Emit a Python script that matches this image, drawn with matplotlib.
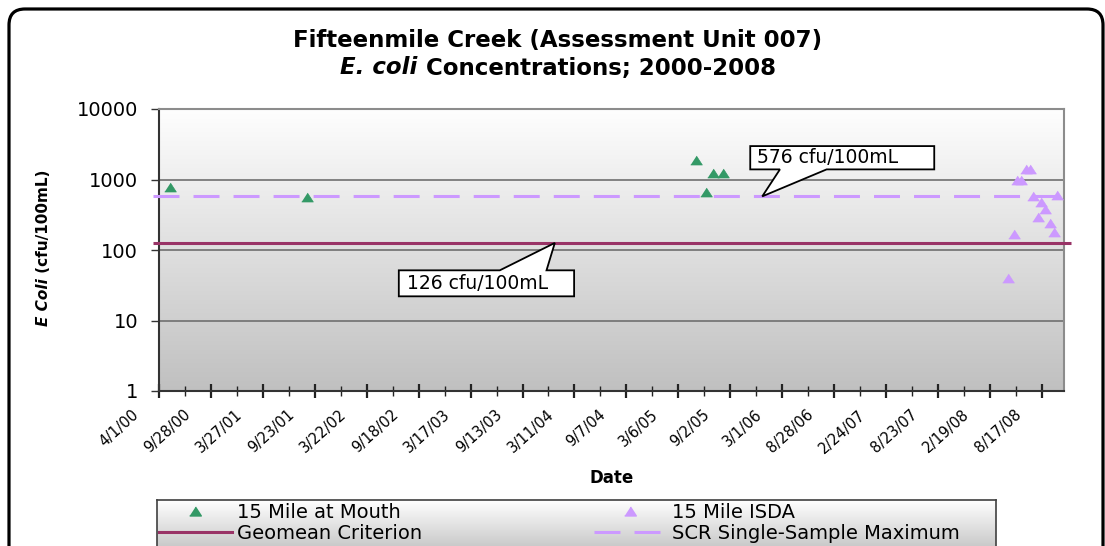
import numpy as np
import matplotlib
matplotlib.use("Agg")
import matplotlib.pyplot as plt
import matplotlib.dates as mdates
import matplotlib.transforms as mtransforms
from matplotlib.patches import Polygon, FancyBboxPatch
from matplotlib.lines import Line2D
from matplotlib.ticker import FixedLocator, NullLocator, FixedFormatter
from datetime import datetime

plt.rcParams['font.family'] = ['DejaVu Sans']

# ---------------- data ----------------
mouth_dates = ["2000-05-10", "2001-08-27", "2005-05-05", "2005-06-10", "2005-07-04", "2005-08-09"]
mouth_values = [790, 560, 1890, 660, 1220, 1220]

isda_dates = ["2008-04-23", "2008-05-11", "2008-05-24", "2008-06-05", "2008-06-24", "2008-07-07",
              "2008-07-17", "2008-08-04", "2008-08-16", "2008-08-29", "2008-09-16", "2008-09-28",
              "2008-10-10"]
isda_values = [40, 170, 1000, 1000, 1410, 1410, 583, 291, 484, 378, 242, 179, 609]

geomean_value = 126
scr_value = 576
criterion_span = ["2000-03-10", "2008-11-27"]

x_tick_labels = ["4/1/00", "9/28/00", "3/27/01", "9/23/01", "3/22/02", "9/18/02", "3/17/03",
                 "9/13/03", "3/11/04", "9/7/04", "3/6/05", "9/2/05", "3/1/06", "8/28/06",
                 "2/24/07", "8/23/07", "2/19/08", "8/17/08"]
x_limits = ["2000-04-01", "2008-11-02"]
y_tick_values = [1, 10, 100, 1000, 10000]
y_tick_labels = ["1", "10", "100", "1000", "10000"]

title_line1 = "Fifteenmile Creek (Assessment Unit 007)"
title_italic = "E. coli"
title_rest = " Concentrations; 2000-2008"
ylabel_italic = "E Coli"
ylabel_rest = " (cfu/100mL)"
xlabel_text = "Date"
series_names = ["15 Mile at Mouth", "Geomean Criterion", "15 Mile ISDA", "SCR Single-Sample Maximum"]
geomean_note = "126 cfu/100mL"
scr_note = "576 cfu/100mL"
geomean_note_date = "2004-01-03"
scr_note_date = "2005-12-22"

GREEN = "#339966"
LAVENDER = "#cc99ff"
MAROON = "#993366"

# ---------------- figure ----------------
W, H, DPI = 1105, 546, 100
fig = plt.figure(figsize=(W / DPI, H / DPI), dpi=DPI, facecolor='white')


def fx(px):
    return px / W


def fy(py):
    return 1 - py / H


L, R, T, B = 159, 1064, 109, 391
rect = [fx(L), fy(B), fx(R) - fx(L), fy(T) - fy(B)]

# gradient plot background
bg = fig.add_axes(rect, zorder=0)
top_c = np.array([254, 254, 254]) / 255
bot_c = np.array([192, 192, 192]) / 255
tt = np.linspace(0, 1, 256)[:, None]
grad = (top_c[None, :] * (1 - tt) + bot_c[None, :] * tt)[:, None, :]
bg.imshow(grad, aspect='auto', extent=[0, 1, 0, 1], interpolation='bilinear')
bg.set_axis_off()

ax = fig.add_axes(rect, zorder=1)
ax.set_facecolor('none')
ax.set_yscale('log')

span = np.array(criterion_span, dtype='datetime64[D]')
ax.plot(span, [geomean_value] * 2, color=MAROON, lw=2.2, clip_on=False, zorder=3,
        solid_capstyle='butt')
ax.plot(span, [scr_value] * 2, color=LAVENDER, lw=2.2, dashes=(8.5, 4.6), clip_on=False,
        zorder=3, dash_capstyle='butt')

tri = [(-1.3, -1), (1.3, -1), (0, 1)]
ax.plot(np.array(mouth_dates, dtype='datetime64[D]'), mouth_values, ls='none', marker=tri,
        ms=8.4, color=GREEN, mec=GREEN, mew=0.5, zorder=4, clip_on=False)
ax.plot(np.array(isda_dates, dtype='datetime64[D]'), isda_values, ls='none', marker=tri,
        ms=8.4, color=LAVENDER, mec=LAVENDER, mew=0.5, zorder=4, clip_on=False)

ax.set_xlim(np.datetime64(x_limits[0]), np.datetime64(x_limits[1]))
ax.set_ylim(1, 10000)

# y axis
ax.yaxis.set_major_locator(FixedLocator(y_tick_values))
ax.yaxis.set_major_formatter(FixedFormatter(y_tick_labels))
ax.yaxis.set_minor_locator(NullLocator())
ax.tick_params(axis='y', which='major', direction='out', length=6, width=1.0,
               color='#333333', labelsize=14, pad=9)
ax.yaxis.grid(True, which='major', color='#6f6f6f', lw=1.2, zorder=1)
ax.set_axisbelow(True)

# x axis
tick_dates = [datetime.strptime(s, "%m/%d/%y") for s in x_tick_labels]
tick_nums = mdates.date2num(tick_dates)
minor_nums = (tick_nums[:-1] + tick_nums[1:]) / 2
ax.xaxis.set_major_locator(FixedLocator(tick_nums))
ax.xaxis.set_major_formatter(FixedFormatter(x_tick_labels))
ax.xaxis.set_minor_locator(FixedLocator(minor_nums))
ax.tick_params(axis='x', which='major', direction='inout', length=10, width=1.6,
               color='#222222', labelsize=10.5, pad=13)
ax.tick_params(axis='x', which='minor', direction='inout', length=7, width=1.0,
               color='#222222')

for side in ['top', 'right']:
    ax.spines[side].set_color('#8c8c8c')
    ax.spines[side].set_linewidth(1.5)
for side in ['left', 'bottom']:
    ax.spines[side].set_color('#333333')
    ax.spines[side].set_linewidth(1.5)

# outer rounded border (pixel coordinates, bottom runs off the image)
border = FancyBboxPatch((9, -60), 1103 - 9, (H - 9) + 60,
                        boxstyle='round,pad=0,rounding_size=16',
                        transform=mtransforms.IdentityTransform(), lw=2.3, ec='black',
                        fc='none', zorder=10)
fig.add_artist(border)

# legend background
lg_ax = fig.add_axes([fx(157), fy(560), fx(996) - fx(157), fy(500) - fy(560)], zorder=2)
lt = np.array([255, 255, 255]) / 255
lb = np.array([186, 186, 186]) / 255
gl = (lt[None, :] * (1 - tt) + lb[None, :] * tt)[:, None, :]
lg_ax.imshow(gl, aspect='auto', extent=[0, 1, 0, 1], interpolation='bilinear')
lg_ax.set_xticks([])
lg_ax.set_yticks([])
for side in ['left', 'right', 'top']:
    lg_ax.spines[side].set_color('#404040')
    lg_ax.spines[side].set_linewidth(1.2)
lg_ax.spines['bottom'].set_visible(False)

h_mouth = Line2D([], [], ls='none', marker=tri, ms=8.4, color=GREEN, mec=GREEN)
h_geo = Line2D([], [], color=MAROON, lw=2.2)
h_isda = Line2D([], [], ls='none', marker=tri, ms=8.4, color=LAVENDER, mec=LAVENDER)
h_scr = Line2D([], [], color=LAVENDER, lw=2.2, dashes=(8.5, 4.6))

leg_kw = dict(loc='upper left', frameon=False, borderpad=0, borderaxespad=0,
              handlelength=3.75, handletextpad=0.26, labelspacing=0.11, fontsize=14)
leg1 = fig.legend([h_mouth, h_geo], series_names[:2], bbox_to_anchor=(fx(159), fy(502.5)), **leg_kw)
leg2 = fig.legend([h_isda, h_scr], series_names[2:], bbox_to_anchor=(fx(594), fy(502.5)), **leg_kw)
leg1.set_zorder(5)
leg2.set_zorder(5)

# titles and labels
fig.text(fx(558), fy(40), title_line1, ha='center', va='center', fontsize=16.5,
         weight='bold')
t2a = fig.text(0, fy(68), title_italic, ha='left', va='center', fontsize=16.5,
               weight='bold', style='italic')
t2b = fig.text(0, fy(68), title_rest, ha='left', va='center', fontsize=16.5, weight='bold')

yla = fig.text(fx(44), 0, ylabel_italic, rotation=90, ha='center', va='bottom',
               fontsize=11, weight='bold', style='italic')
ylb = fig.text(fx(44), 0, ylabel_rest, rotation=90, ha='center', va='bottom',
               fontsize=11, weight='bold')

fig.text(fx(612), fy(478), xlabel_text, ha='center', va='center', fontsize=12, weight='bold')

fig.canvas.draw()
renderer = fig.canvas.get_renderer()

# center title line 2
wa = t2a.get_window_extent(renderer).width
wb = t2b.get_window_extent(renderer).width
x0 = 558 - (wa + wb) / 2
t2a.set_x(fx(x0))
t2b.set_x(fx(x0 + wa))

# center y label
ha_ = yla.get_window_extent(renderer).height
hb_ = ylb.get_window_extent(renderer).height
ybot = 247.5 + (ha_ + hb_) / 2  # image coords
yla.set_y(fy(ybot))
ylb.set_y(fy(ybot - ha_))

# x tick labels: rotated, shifted left
shift = mtransforms.ScaledTranslation(-19.5 / DPI, 0, fig.dpi_scale_trans)
for lbl in ax.get_xticklabels():
    lbl.set_rotation(42)
    lbl.set_ha('right')
    lbl.set_va('baseline')
    lbl.set_rotation_mode('anchor')
    lbl.set_transform(lbl.get_transform() + shift)


# callouts
def callout(date, value, poly_off, text_off, text):
    px, py = ax.transData.transform((mdates.date2num(np.datetime64(date)), value))
    verts = [((px + dx) / W, (py + dy) / H) for dx, dy in poly_off]
    fig.add_artist(Polygon(verts, closed=True, transform=fig.transFigure, fc='white',
                           ec='black', lw=1.3, zorder=6))
    fig.text((px + text_off[0]) / W, (py + text_off[1]) / H, text, ha='left',
             va='center', fontsize=13.5, zorder=7)


callout(scr_note_date, scr_value,
        [(-12, 50.3), (172, 50.3), (172, 27), (64.4, 27), (0, 0), (17.7, 27), (-12, 27)],
        (-5.6, 38.6), scr_note)
callout(geomean_note_date, geomean_value,
        [(-156, -27.4), (-55, -27.4), (0, 0), (-8.3, -27.4), (19.3, -27.4), (19.3, -53.4),
         (-156, -53.4)],
        (-148.3, -40.4), geomean_note)

fig.savefig("out.png", dpi=DPI, facecolor='white')
